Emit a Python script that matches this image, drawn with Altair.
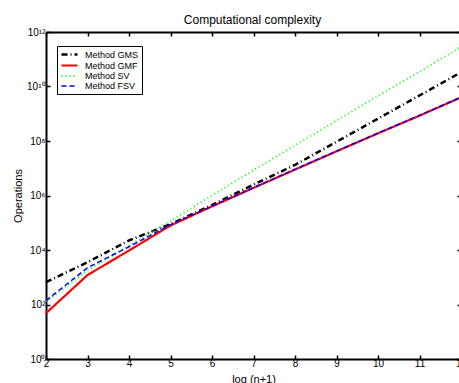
import altair as alt
import pandas as pd

x_vals = [2, 3, 4, 5, 6, 7, 8, 9, 10, 11, 12]
methods = ["Method GMS", "Method GMF", "Method SV", "Method FSV"]
gms = [661, 3548, 22387, 89125, 446684, 2.51e6, 1.32e7, 9.33e7, 6.61e8, 4.68e9, 3.31e10]
gmf = [47.9, 1202, 9550, 79433, 398107, 1.905e6, 8.91e6, 4.17e7, 1.905e8, 8.51e8, 3.98e9]
sv = [126, 1778, 14125, 117490, 1.0e6, 8.51e6, 6.92e7, 5.62e8, 4.47e9, 3.55e10, 2.82e11]
fsv = [138, 2239, 13183, 85114, 407380, 1.95e6, 9.12e6, 4.27e7, 1.95e8, 8.71e8, 4.07e9]
y_ticks = [1, 1e2, 1e4, 1e6, 1e8, 1e10, 1e12]

colors = ["#000000", "#ff0000", "#00ff00", "#0000ff"]
dashes = [[6, 3, 1, 3], [1, 0], [1, 3], [5, 3]]
widths = [2.5, 1.5, 1.2, 2]

rows = []
for name, series in zip(methods, [gms, gmf, sv, fsv]):
    for xv, yv in zip(x_vals, series):
        rows.append({"x": xv, "method": name, "ops": yv})
df = pd.DataFrame(rows)

FONT = "Liberation Sans"
xscale = alt.Scale(domain=[2, 12], range=[0, 415], nice=False, zero=False)
yscale = alt.Scale(type="log", domain=[1, 1e12], nice=False)

sup = "['\u2070','\u00b9','\u00b2','\u00b3','\u2074','\u2075','\u2076','\u2077','\u2078','\u2079','\u00b9\u2070','\u00b9\u00b9','\u00b9\u00b2']"

lines = alt.Chart(df).mark_line(strokeCap="butt").encode(
    x=alt.X("x:Q", scale=xscale,
            axis=alt.Axis(orient="bottom", values=x_vals, tickSize={"expr": "-4"},
                          labelPadding=3, labelFlush=False, title="log (n+1)", titlePadding=5,
                          titleFontSize=11, titleFontWeight="normal")),
    y=alt.Y("ops:Q", scale=yscale,
            axis=alt.Axis(orient="left", values=y_ticks, tickSize={"expr": "-4"},
                          labelPadding=5, labelFlush=False,
                          labelExpr="'10' + " + sup + "[round(log(datum.value)/LN10)]",
                          title="Operations", titlePadding=3, titleFontSize=11,
                          titleFontWeight="normal")),
    color=alt.Color("method:N", scale=alt.Scale(domain=methods, range=colors),
                    legend=alt.Legend(title=None, orient="none", legendX=11, legendY=14,
                                      symbolType="M-2,0H2", symbolSize=64,
                                      symbolOffset=4,
                                      strokeColor="black", fillColor="white",
                                      padding=3, rowPadding=0, labelOffset=10,
                                      labelFontSize=9, labelFont=FONT)),
    strokeDash=alt.StrokeDash("method:N", scale=alt.Scale(domain=methods, range=dashes)),
    strokeWidth=alt.StrokeWidth("method:N", scale=alt.Scale(domain=methods, range=widths)),
    order=alt.Order("x:Q"),
)

frame = alt.Chart(df).mark_point(opacity=0).encode(
    x=alt.X("x:Q", scale=xscale, title=None,
            axis=alt.Axis(orient="top", values=x_vals, tickSize={"expr": "-4"}, labels=False)),
    y=alt.Y("ops:Q", scale=yscale, title=None,
            axis=alt.Axis(orient="right", values=y_ticks, tickSize={"expr": "-4"},
                          labels=False, offset=2)),
)

chart = alt.layer(lines, frame).resolve_axis(x="independent", y="independent").properties(
    width=413, height=327,
    autosize=alt.AutoSizeParams(type="none"),
    padding={"left": 46, "top": 32, "right": 0, "bottom": 24},
    title=alt.Title("Computational complexity", fontSize=12, fontWeight="normal",
                    font=FONT, offset=0),
).configure_view(stroke=None).configure_axis(
    grid=False, domainColor="black", domainWidth=2, tickColor="black", tickWidth=1.5,
    labelColor="black", labelFont=FONT, labelFontSize=10, titleFont=FONT, titleColor="black",
).configure_legend(labelColor="black")

chart.save("out.html", embed_options={"renderer": "svg", "actions": False})
